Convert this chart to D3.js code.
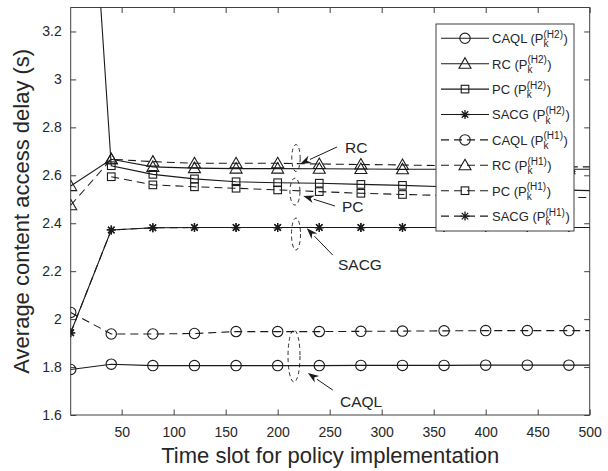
<!DOCTYPE html>
<html>
<head>
<meta charset="utf-8">
<script src="https://cdn.jsdelivr.net/npm/d3@7"></script>
<style>
  body { margin: 0; background: #fff; }
  text { font-family: "Liberation Sans", Arial, sans-serif; fill: #262626; }
</style>
</head>
<body>
<div id="chart"></div>
<script>
// Data
var slots = [1, 40, 80, 120, 160, 200, 240, 280, 320, 360, 400, 440, 480, 500];
var markerSlots = [1, 40, 80, 120, 160, 200, 240, 280, 320, 360, 400, 440, 480];

var caqlH2 = [1.79, 1.812, 1.806, 1.806, 1.806, 1.806, 1.806, 1.807, 1.807, 1.807, 1.808, 1.808, 1.808, 1.808];
var rcH2   = [2.555, 2.667, 2.635, 2.63, 2.628, 2.628, 2.627, 2.626, 2.625, 2.625, 2.625, 2.625, 2.625, 2.625];
var pcH2   = [5.2, 2.64, 2.604, 2.585, 2.573, 2.569, 2.567, 2.562, 2.558, 2.552, 2.547, 2.542, 2.538, 2.536];
var sacgH2 = [1.943, 2.372, 2.381, 2.382, 2.382, 2.382, 2.382, 2.382, 2.382, 2.382, 2.382, 2.382, 2.382, 2.382];
var caqlH1 = [2.028, 1.938, 1.938, 1.94, 1.948, 1.948, 1.948, 1.949, 1.95, 1.951, 1.952, 1.952, 1.952, 1.952];
var rcH1   = [2.475, 2.667, 2.657, 2.65, 2.65, 2.65, 2.647, 2.645, 2.643, 2.64, 2.638, 2.636, 2.635, 2.635];
var pcH1   = [null, 2.594, 2.56, 2.552, 2.546, 2.539, 2.532, 2.525, 2.52, 2.516, 2.513, 2.51, 2.508, 2.507];
var sacgH1 = [1.943, 2.372, 2.381, 2.382, 2.382, 2.382, 2.382, 2.382, 2.382, 2.382, 2.382, 2.382, 2.382, 2.382];

var xTicks = [50, 100, 150, 200, 250, 300, 350, 400, 450, 500];
var yTicks = [1.6, 1.8, 2, 2.2, 2.4, 2.6, 2.8, 3, 3.2];

// series list (legend order)
var series = [
  { name: "CAQL", h: "H2", values: caqlH2, marker: "circle", dashed: false },
  { name: "RC", h: "H2", values: rcH2, marker: "triangle", dashed: false },
  { name: "PC", h: "H2", values: pcH2, marker: "square", dashed: false },
  { name: "SACG", h: "H2", values: sacgH2, marker: "star", dashed: false },
  { name: "CAQL", h: "H1", values: caqlH1, marker: "circle", dashed: true },
  { name: "RC", h: "H1", values: rcH1, marker: "triangle", dashed: true },
  { name: "PC", h: "H1", values: pcH1, marker: "square", dashed: true },
  { name: "SACG", h: "H1", values: sacgH1, marker: "star", dashed: true }
];

var W = 608, H = 471;
var plot = { left: 70.7, right: 589.7, top: 7.5, bottom: 415 };
var lineColor = "#1a1a1a";
var axisColor = "#404040";
var dash = "8,5";

var svg = d3.select("#chart").append("svg")
  .attr("width", W)
  .attr("height", H);

var x = d3.scaleLinear().domain([1, 500]).range([plot.left, plot.right]);
var y = d3.scaleLinear().domain([1.6, 3.3]).range([plot.bottom, plot.top]);

svg.append("defs").append("clipPath")
  .attr("id", "clip")
  .append("rect")
  .attr("x", plot.left).attr("y", plot.top)
  .attr("width", plot.right - plot.left)
  .attr("height", plot.bottom - plot.top);

// axes (MATLAB style: ticks inside, box on)
var tickLen = 5.5;
var xAxis = d3.axisBottom(x).tickValues(xTicks).tickSizeInner(-tickLen).tickSizeOuter(0).tickPadding(12);
var yAxis = d3.axisLeft(y).tickValues(yTicks).tickSizeInner(-tickLen).tickSizeOuter(0).tickPadding(9)
  .tickFormat(d3.format("~g"));

var gx = svg.append("g")
  .attr("transform", "translate(0," + plot.bottom + ")")
  .call(xAxis);
var gy = svg.append("g")
  .attr("transform", "translate(" + plot.left + ",0)")
  .call(yAxis);
svg.append("g")
  .attr("transform", "translate(0," + plot.top + ")")
  .call(d3.axisTop(x).tickValues(xTicks).tickSizeInner(-tickLen).tickSizeOuter(0).tickFormat(""));
svg.append("g")
  .attr("transform", "translate(" + plot.right + ",0)")
  .call(d3.axisRight(y).tickValues(yTicks).tickSizeInner(-tickLen).tickSizeOuter(0).tickFormat(""));

svg.selectAll(".domain").attr("stroke", "none");
svg.selectAll(".tick line").attr("stroke", axisColor);
svg.selectAll(".tick text")
  .style("font-size", "14px")
  .attr("fill", "#262626");

svg.append("rect")
  .attr("x", plot.left).attr("y", plot.top)
  .attr("width", plot.right - plot.left)
  .attr("height", plot.bottom - plot.top)
  .attr("fill", "none")
  .attr("stroke", axisColor)
  .attr("stroke-width", 1);

// axis labels
svg.append("text")
  .attr("x", (plot.left + plot.right) / 2)
  .attr("y", 463)
  .attr("text-anchor", "middle")
  .style("font-size", "22px")
  .text("Time slot for policy implementation");

svg.append("text")
  .attr("transform", "translate(29," + (plot.top + plot.bottom) / 2 + ") rotate(-90)")
  .attr("text-anchor", "middle")
  .style("font-size", "22px")
  .text("Average content access delay (s)");

// marker drawing
function drawMarker(g, type, cx, cy) {
  if (type === "circle") {
    g.append("circle").attr("cx", cx).attr("cy", cy).attr("r", 5.2)
      .attr("fill", "none").attr("stroke", lineColor).attr("stroke-width", 1.1);
  } else if (type === "triangle") {
    var s = 6;
    g.append("path")
      .attr("d", "M" + cx + "," + (cy - s) + "L" + (cx + s) + "," + (cy + s * 0.75) + "L" + (cx - s) + "," + (cy + s * 0.75) + "Z")
      .attr("fill", "none").attr("stroke", lineColor).attr("stroke-width", 1.1);
  } else if (type === "square") {
    g.append("rect").attr("x", cx - 3.8).attr("y", cy - 3.8).attr("width", 7.6).attr("height", 7.6)
      .attr("fill", "none").attr("stroke", lineColor).attr("stroke-width", 1.1);
  } else if (type === "star") {
    var r = 4.5, d = r * 0.72;
    g.append("path")
      .attr("d", "M" + (cx - r) + "," + cy + "H" + (cx + r) +
        "M" + cx + "," + (cy - r) + "V" + (cy + r) +
        "M" + (cx - d) + "," + (cy - d) + "L" + (cx + d) + "," + (cy + d) +
        "M" + (cx - d) + "," + (cy + d) + "L" + (cx + d) + "," + (cy - d))
      .attr("fill", "none").attr("stroke", lineColor).attr("stroke-width", 1.3);
  }
}

var line = d3.line()
  .defined(function (d) { return d.v !== null; })
  .x(function (d) { return x(d.t); })
  .y(function (d) { return y(d.v); });

var plotG = svg.append("g").attr("clip-path", "url(#clip)");

// draw dashed (H1) first, then solid (H2) on top
var drawOrder = series.slice(4).concat(series.slice(0, 4));
drawOrder.forEach(function (s) {
  var pts = slots.map(function (t, i) { return { t: t, v: s.values[i] }; });
  plotG.append("path")
    .datum(pts)
    .attr("d", line)
    .attr("fill", "none")
    .attr("stroke", lineColor)
    .attr("stroke-width", 1.1)
    .attr("stroke-dasharray", s.dashed ? dash : null);
  var mg = plotG.append("g");
  pts.forEach(function (p) {
    if (p.v === null || markerSlots.indexOf(p.t) < 0) return;
    if (p.v > 3.3) return;
    drawMarker(mg, s.marker, x(p.t), y(p.v));
  });
});

// annotations: dashed ellipses + arrows + labels
var annotations = [
  { label: "RC", ex: 217.6, ey: 2.672, rx: 4.2, ry: 13.5, tail: [257, 2.718], tip: [221.5, 2.647], tx: 345, ty: 2.693 },
  { label: "PC", ex: 216.6, ey: 2.532, rx: 5, ry: 13.5, tail: [255, 2.472], tip: [224.6, 2.514], tx: 342, ty: 2.447 },
  { label: "SACG", ex: 217.6, ey: 2.355, rx: 4.5, ry: 16, tail: [253, 2.267], tip: [228, 2.379], tx: 338, ty: 2.205 },
  { label: "CAQL", ex: 215.7, ey: 1.846, rx: 6, ry: 26, tail: [253, 1.704], tip: [229, 1.775], tx: 340, ty: 1.635 }
];

var annG = svg.append("g");
annotations.forEach(function (a) {
  annG.append("ellipse")
    .attr("cx", x(a.ex)).attr("cy", y(a.ey))
    .attr("rx", a.rx).attr("ry", a.ry)
    .attr("fill", "none")
    .attr("stroke", lineColor)
    .attr("stroke-width", 0.9)
    .attr("stroke-dasharray", "4,3");
  var x1 = x(a.tail[0]), y1 = y(a.tail[1]);
  var x2 = x(a.tip[0]), y2 = y(a.tip[1]);
  var ang = Math.atan2(y2 - y1, x2 - x1);
  var hl = 11, hw = 4;
  var bx = x2 - hl * Math.cos(ang), by = y2 - hl * Math.sin(ang);
  annG.append("line")
    .attr("x1", x1).attr("y1", y1).attr("x2", bx).attr("y2", by)
    .attr("stroke", lineColor).attr("stroke-width", 1);
  annG.append("path")
    .attr("d", "M" + x2 + "," + y2 +
      "L" + (bx + hw * Math.sin(ang)) + "," + (by - hw * Math.cos(ang)) +
      "L" + (x2 - hl * 0.7 * Math.cos(ang)) + "," + (y2 - hl * 0.7 * Math.sin(ang)) +
      "L" + (bx - hw * Math.sin(ang)) + "," + (by + hw * Math.cos(ang)) + "Z")
    .attr("fill", lineColor);
  annG.append("text")
    .attr("x", a.tx)
    .attr("y", y(a.ty))
    .style("font-size", "15.5px")
    .text(a.label);
});

// legend
var leg = { x: 436, y: 24, w: 138, h: 207 };
var legG = svg.append("g");
legG.append("rect")
  .attr("x", leg.x).attr("y", leg.y)
  .attr("width", leg.w).attr("height", leg.h)
  .attr("fill", "#fff")
  .attr("stroke", axisColor)
  .attr("stroke-width", 1);

series.forEach(function (s, i) {
  var ry = 38.3 + i * 25.4;
  legG.append("line")
    .attr("x1", 441).attr("x2", 489)
    .attr("y1", ry).attr("y2", ry)
    .attr("stroke", lineColor)
    .attr("stroke-width", 1.1)
    .attr("stroke-dasharray", s.dashed ? dash : null);
  drawMarker(legG, s.marker, 465, ry);
  var t = legG.append("text")
    .attr("x", 492).attr("y", ry + 4.8)
    .style("font-size", "13px")
    .text(s.name + " (P");
  var w = t.node().getComputedTextLength();
  var sup = legG.append("text")
    .attr("x", 492 + w).attr("y", ry - 0.5)
    .style("font-size", "10px")
    .text("(" + s.h + ")");
  legG.append("text")
    .attr("x", 492 + w).attr("y", ry + 9)
    .style("font-size", "10px")
    .text("k");
  var w2 = sup.node().getComputedTextLength();
  legG.append("text")
    .attr("x", 492 + w + w2 + 0.5).attr("y", ry + 4.8)
    .style("font-size", "13px")
    .text(")");
});
</script>
</body>
</html>
